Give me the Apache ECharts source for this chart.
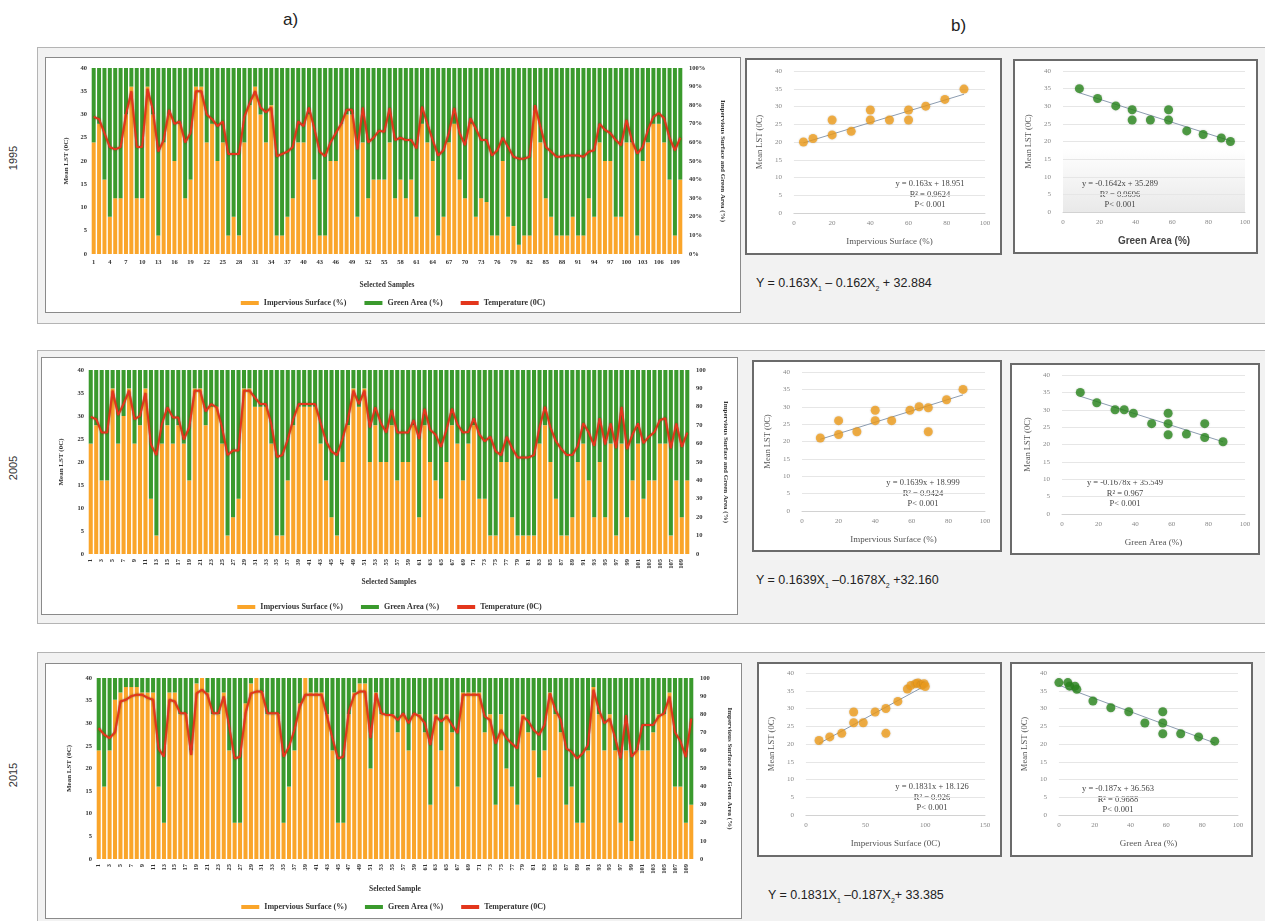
<!DOCTYPE html>
<html>
<head>
<meta charset="utf-8">
<script src="https://cdn.jsdelivr.net/npm/echarts/dist/echarts.min.js"></script>
<style>
  body { margin:0; width:1265px; height:921px; background:#fff; position:relative; overflow:hidden; font-family:'Liberation Sans', Arial, sans-serif; }
  .frame { position:absolute; background:#f2f2f2; border:1px solid #b4b4b4; box-sizing:border-box; }
  .box { position:absolute; background:#fff; box-sizing:border-box; }
  .barbox { border:1.5px solid #8a8a8a; }
  .scbox { border:2px solid #6b6b6b; }
  .box > div { width:100%; height:100%; }
  .tag { position:absolute; font-size:17px; color:#222; }
  .year { position:absolute; font-size:11px; color:#333; transform:rotate(-90deg); transform-origin:center; }
  .eq { position:absolute; font-size:12.5px; color:#222; white-space:nowrap; }
  .eq sub { font-size:7px; }
</style>
</head>
<body>

<div class="tag" style="left:283px;top:10px">a)</div>
<div class="tag" style="left:951px;top:16px">b)</div>

<div class="frame" style="left:37px;top:47px;width:1230px;height:277px"></div>
<div class="frame" style="left:37px;top:350px;width:1230px;height:274px"></div>
<div class="frame" style="left:37px;top:652px;width:1230px;height:280px"></div>

<div class="year" style="left:1px;top:152px">1995</div>
<div class="year" style="left:1px;top:462px">2005</div>
<div class="year" style="left:1px;top:769px">2015</div>

<div class="box barbox" style="left:45px;top:57px;width:696px;height:256px"><div id="bar1995"></div></div>
<div class="box barbox" style="left:41px;top:357px;width:697px;height:258px"><div id="bar2005"></div></div>
<div class="box barbox" style="left:45px;top:663px;width:697px;height:256px"><div id="bar2015"></div></div>

<div class="box scbox" style="left:745px;top:58px;width:257px;height:197px"><div id="is1995"></div></div>
<div class="box scbox" style="left:1013px;top:59px;width:245px;height:195px"><div id="ga1995"></div></div>
<div class="box scbox" style="left:752px;top:360px;width:250px;height:192px"><div id="is2005"></div></div>
<div class="box scbox" style="left:1010px;top:363px;width:250px;height:192px"><div id="ga2005"></div></div>
<div class="box scbox" style="left:757px;top:662px;width:245px;height:195px"><div id="is2015"></div></div>
<div class="box scbox" style="left:1010px;top:662px;width:243px;height:195px"><div id="ga2015"></div></div>

<div class="eq" style="left:756px;top:276px">Y = 0.163X<sub>1</sub> – 0.162X<sub>2</sub> + 32.884</div>
<div class="eq" style="left:756px;top:573px">Y = 0.1639X<sub>1</sub> –0.1678X<sub>2</sub> +32.160</div>
<div class="eq" style="left:768px;top:888px">Y = 0.1831X<sub>1</sub> –0.187X<sub>2</sub>+ 33.385</div>

<script>
// ---- sample labels 1..110
var samples = [];
for (var i = 1; i <= 110; i++) samples.push(String(i));

// ---- 1995
var imp1995 = [60,70,40,20,30,30,75,90,30,30, 90,75,10,60,75,50,70,30,40,90,
               90,60,70,50,60,10,20,10,60,80, 90,75,60,80,10,10,20,30,60,60,
               75,40,10,10,50,50,70,75,75,20, 60,30,40,40,40,60,30,40,30,40,
               20,70,60,50,10,20,60,70,40,30, 70,20,30,28,10,10,50,20,15,5,
               10,10,77,60,30,20,10,10,10,20, 10,10,30,20,60,50,50,20,20,60,
               60,10,50,60,70,70,60,40,10,40];
var green1995 = [40,30,60,80,70,70,25,10,70,70, 10,25,90,40,25,50,30,70,60,10,
                 10,40,30,50,40,90,80,90,40,20, 10,25,40,20,90,90,80,70,40,40,
                 25,60,90,90,50,50,30,25,25,80, 40,70,60,60,60,40,70,60,70,60,
                 80,30,40,50,90,80,40,30,60,70, 30,80,70,72,90,90,50,80,85,95,
                 90,90,23,40,70,80,90,90,90,80, 90,90,70,80,40,50,50,80,80,40,
                 40,90,50,40,30,30,40,60,90,60];
var temp1995 = [29.5,29,26,23,22.5,23,30,35,23,23, 35.5,31,22,24.5,31,28,28.5,24,26,35,
                35,30,29,27.5,28.5,21.5,21.5,21.5,29.5,32.5, 35,31.5,30.5,31.5,21,21.5,22,23,28.5,27.5,
                31.5,27,22,21,24,26,28,31,31,22.5, 31.5,24,25,26.5,26.3,31.4,24.5,25,24.5,24.5,
                22.7,31.7,28,24.5,21.2,22.3,26,31.4,26,23.4, 29.2,27,24.5,24.5,21.2,22.3,25,23,20.9,20.5,
                20.5,20.9,32,27.4,23,22,20.9,20.9,21.2,21.2, 21.2,20.9,22,22.3,28,26.7,26,24.5,23.4,28.8,
                24.5,21.6,23,26.7,29.5,30.3,29.2,25,22.3,25];

// ---- 2005
var imp2005 = [60,70,40,40,90,60,75,90,60,70, 90,30,10,60,70,60,70,60,40,90,
               90,70,80,80,60,10,20,30,90,90, 80,80,80,60,10,10,40,70,80,80,
               80,80,60,40,20,10,50,70,90,80, 90,50,70,50,50,70,40,50,50,70,
               20,70,50,40,30,50,70,60,40,60, 70,30,30,10,10,50,50,20,10,10,
               10,10,60,70,50,30,10,10,20,50, 60,40,20,50,20,60,10,60,20,40,
               60,30,40,40,60,60,10,40,20,40];
var green2005 = [40,30,60,60,10,40,25,10,40,30, 10,70,90,40,30,40,30,40,60,10,
                 10,30,20,20,40,90,80,70,10,10, 20,20,20,40,90,90,60,30,20,20,
                 20,20,40,60,80,90,50,30,10,20, 10,50,30,50,50,30,60,50,50,30,
                 80,30,50,60,70,50,30,40,60,40, 30,70,70,90,90,50,50,80,90,90,
                 90,90,40,30,50,70,90,90,80,50, 40,60,80,50,80,40,90,40,80,60,
                 40,70,60,60,40,40,90,60,80,60];
var temp2005 = [29.8,29.3,26.4,26.4,35.5,30.2,32.6,35.5,29.3,30, 35,23.8,21.5,28.2,31.9,29.7,29.7,24.9,27.5,35.5,
                35.5,31,32.6,31.9,27.5,21.5,22.5,22.5,35.5,35.5, 34,32.6,32.6,28.2,21.1,21.5,24.9,29.3,32.6,32.6,
                32.6,32.6,28.5,24.5,22.3,21.5,25,29.3,35.5,32.6, 35.5,27.5,31.9,28.5,26.4,31.3,26.4,26.4,26.4,29.1,
                25,31.6,27,26,23.3,27,31.6,28.2,26.4,26.5, 29.5,26,24.5,25.5,22.3,21.5,25.5,23,21,21,
                21,21.5,27.5,32,27.5,24.5,22.8,21.5,21.5,23.5, 28.4,26.4,23.5,29.5,23.8,28.4,23,32,22.8,26,
                28.4,24.1,25.5,26.5,29.1,29.5,23,28.4,23.3,26.4];

// ---- 2015
var imp2015 = [60,40,60,88,92,95,95,95,92,92, 92,40,20,92,92,80,80,60,97,100,
               92,80,80,92,60,20,20,86,97,100, 92,80,80,80,20,40,60,86,100,92,
               92,92,80,60,20,20,80,92,97,97, 50,92,80,80,80,70,80,60,80,80,
               70,30,80,60,80,70,40,92,92,92, 92,70,80,30,80,50,40,30,80,70,
               60,45,60,92,80,70,30,40,20,20, 60,95,80,60,80,60,20,60,10,60,
               60,60,70,80,80,92,40,40,20,30];
var green2015 = [40,60,40,12,8,5,5,5,8,8, 8,60,80,8,8,20,20,40,3,0,
                 8,20,20,8,40,80,80,14,3,0, 8,20,20,20,80,60,40,14,0,8,
                 8,8,20,40,80,80,20,8,3,3, 50,8,20,20,20,30,20,40,20,20,
                 30,70,20,40,20,30,60,8,8,8, 8,30,20,70,20,50,60,70,20,30,
                 40,55,40,8,20,30,70,60,80,80, 40,5,20,40,20,40,80,40,90,40,
                 40,40,30,20,20,8,60,60,80,70];
var temp2015 = [28.9,27.5,26.7,28,34.8,35.2,36,36.3,36.3,35.6, 35.2,24.4,22.6,35.2,34.8,32.2,32.2,23,36.6,37.4,
                36.3,32.2,32.2,35.9,29.3,22.2,22.6,32.2,36.6,37, 37,32.2,32.2,32.2,22.6,24.8,28.5,33.7,36.3,36.3,
                36.3,36.3,31.5,26.7,22.2,22.6,32.6,36.3,37,37, 26.7,36.6,32.2,31.8,31.8,30.7,32.2,30,32.2,31.5,
                30,25.2,31.5,30.4,31.5,29.6,27.8,36.3,36.3,36.3, 36.3,31.5,30.7,25.5,28.5,26.7,25.5,24.4,31.5,30.5,
                28.5,27.4,29.6,36.6,33,30.7,24.4,23.7,22.2,23.3, 25.2,37.4,33,30,31,26.7,22.2,31.8,22.6,24,
                29.6,29.6,29.6,31.5,32.2,35.9,28,26,22.5,31];

// ---- scatter samples (x = % cover, y = mean LST)
var isX1995 = [5,10,20,20,30,40,40,50,60,60,69,79,89];
var isY1995 = [20,21,22,26.2,23,26.2,29,26.2,26.2,29,30.1,32,34.9];
var gaX1995 = [9,19,29,38,38,48,58,58,68,77,87,92];
var gaY1995 = [35,32.2,30.1,29,26.1,26.1,29,26.1,23,22,21,20];
var isX2005 = [10,20,20,30,40,40,49,59,64,69,69,79,88];
var isY2005 = [21,22,26,22.8,26,29,26,29,30,29.7,22.8,32,35];
var gaX2005 = [10,19,29,34,39,49,58,58,58,68,78,78,88];
var gaY2005 = [35,32,30,30,29,26,29,26,22.8,23,26,22,20.8];
var isX2015 = [11,20,30,40,40,48,58,67,67,77,85,88,92,94,97,99,100];
var isY2015 = [21,22,23,26,29,26,29,30,23,32,35.5,36.5,37,37.2,36.6,37,36.2];
var gaX2015 = [0,5,6,9,10,19,29,39,48,58,58,58,68,78,87];
var gaY2015 = [37.3,37.3,36.3,36.3,35.4,32.1,30.2,29.1,25.9,29.1,25.9,22.9,22.9,22,20.8];

var ORANGE = '#FAA52A', GREEN = '#3A9A2D', RED = '#E3361C';
var SERIF = 'Liberation Serif, Times New Roman, serif';

function barChart(id, imp, green, temp, o) {
    var chart = echarts.init(document.getElementById(id));
    chart.setOption({
        animation: false,
        textStyle: { fontFamily: SERIF },
        grid: { left: o.left, right: o.right, top: o.top, bottom: o.bottom },
        legend: {
            top: o.legendTop, left: 'center',
            itemWidth: 18, itemHeight: 4, itemGap: 18,
            textStyle: { fontSize: 8, fontWeight: 'bold', color: '#333', fontFamily: SERIF },
            data: [
                { name: 'Impervious Surface (%)', icon: 'rect' },
                { name: 'Green Area (%)', icon: 'rect' },
                { name: 'Temperature (0C)', icon: 'rect' }
            ]
        },
        xAxis: {
            type: 'category', data: samples,
            axisTick: { show: false }, axisLine: { show: false },
            axisLabel: { interval: o.interval, rotate: o.rotate, fontSize: 6.5, fontWeight: 'bold', color: '#333', margin: 5 },
            name: o.xName, nameLocation: 'middle', nameGap: o.nameGap,
            nameTextStyle: { fontSize: 7.5, fontWeight: 'bold', color: '#333' }
        },
        yAxis: [
            {
                type: 'value', min: 0, max: 40, interval: 5,
                axisLine: { show: false }, axisTick: { show: false }, splitLine: { show: false },
                axisLabel: { fontSize: 6.5, fontWeight: 'bold', color: '#333', margin: 4 },
                name: 'Mean LST (0C)', nameLocation: 'middle', nameGap: o.lgap,
                nameTextStyle: { fontSize: 7, fontWeight: 'bold', color: '#333' }
            },
            {
                type: 'value', min: 0, max: 100, interval: 10,
                axisLine: { show: false }, axisTick: { show: false }, splitLine: { show: false },
                axisLabel: { fontSize: 6.5, fontWeight: 'bold', color: '#333', margin: 6,
                             formatter: o.pct ? '{value}%' : '{value}' },
                name: 'Impervious Surface and Green Area (%)', nameLocation: 'middle',
                nameRotate: -90, nameGap: o.rgap,
                nameTextStyle: { fontSize: 7, fontWeight: 'bold', color: '#333' }
            }
        ],
        series: [
            { name: 'Impervious Surface (%)', type: 'bar', stack: 'cover', yAxisIndex: 1, data: imp,
              barCategoryGap: '26%', itemStyle: { color: ORANGE } },
            { name: 'Green Area (%)', type: 'bar', stack: 'cover', yAxisIndex: 1, data: green,
              itemStyle: { color: GREEN } },
            { name: 'Temperature (0C)', type: 'line', yAxisIndex: 0, data: temp, symbol: 'none',
              lineStyle: { color: RED, width: 2, shadowColor: 'rgba(110,40,0,0.7)', shadowBlur: 2 },
              itemStyle: { color: RED } }
        ]
    });
}

function scatterChart(id, xs, ys, fit, o) {
    var pts = xs.map(function (x, i) { return [x, ys[i]]; });
    var x0 = Math.min.apply(null, xs), x1 = Math.max.apply(null, xs);
    var chart = echarts.init(document.getElementById(id));
    chart.setOption({
        animation: false,
        textStyle: { fontFamily: SERIF },
        grid: { left: o.left, right: o.right, top: o.top, bottom: o.bottom,
                show: !!o.shade, borderWidth: 0,
                backgroundColor: o.shade ? new echarts.graphic.LinearGradient(0, 0, 0, 1,
                    [{ offset: 0, color: '#ffffff' }, { offset: 0.55, color: '#ffffff' }, { offset: 1, color: '#e9e9e9' }]) : 'transparent' },
        xAxis: {
            type: 'value', min: 0, max: o.xmax, interval: o.xint,
            axisLine: { lineStyle: { color: '#d2d2d2' } }, axisTick: { show: false }, splitLine: { show: false },
            axisLabel: { fontSize: 7, color: '#888', margin: 7 },
            name: o.xName, nameLocation: 'middle', nameGap: 24, nameTextStyle: o.xNameStyle
        },
        yAxis: {
            type: 'value', min: 0, max: 40, interval: 5,
            axisLine: { show: false }, axisTick: { show: false },
            splitLine: { lineStyle: { color: '#e6e6e6' } },
            axisLabel: { fontSize: 7, color: '#888', margin: 12 },
            name: 'Mean LST (0C)', nameLocation: 'middle', nameGap: 25,
            nameTextStyle: { fontSize: 8.5, color: '#555' }
        },
        series: [
            { type: 'line', data: [[x0, fit[0] * x0 + fit[1]], [x1, fit[0] * x1 + fit[1]]],
              symbol: 'none', lineStyle: { color: '#8c9cb0', width: 1 }, z: 1 },
            { type: 'scatter', data: pts, symbolSize: 9, z: 2,
              itemStyle: { color: o.color, shadowColor: 'rgba(0,0,0,0.25)', shadowBlur: 2 } }
        ],
        graphic: [{
            type: 'text', x: o.tx, y: o.ty,
            style: { text: o.label, align: 'center', verticalAlign: 'top', lineHeight: 10.5,
                     font: '8.5px ' + SERIF, fill: '#444' }
        }]
    });
}

barChart('bar1995', imp1995, green1995, temp1995,
    { left: 45, right: 57, top: 10, bottom: 58, interval: 2, rotate: 0, pct: true,
      xName: 'Selected Samples', nameGap: 27, legendTop: 236, lgap: 21, rgap: 36 });
barChart('bar2005', imp2005, green2005, temp2005,
    { left: 46, right: 47, top: 12, bottom: 60, interval: 1, rotate: 90, pct: false,
      xName: 'Selected Samples', nameGap: 24, legendTop: 240, lgap: 23, rgap: 32 });
barChart('bar2015', imp2015, green2015, temp2015,
    { left: 50, right: 44, top: 14, bottom: 59, interval: 1, rotate: 90, pct: false,
      xName: 'Selected Sample', nameGap: 26, legendTop: 234, lgap: 23, rgap: 32 });

var serifName = { fontSize: 9, color: '#555', fontFamily: SERIF };
var boldSansName = { fontSize: 10, color: '#444', fontWeight: 'bold', fontFamily: 'Liberation Sans, Arial, sans-serif' };

scatterChart('is1995', isX1995, isY1995, [0.163, 18.951],
    { left: 46, right: 15, top: 11, bottom: 40, xmax: 100, xint: 20, color: '#F3A01E',
      xName: 'Impervious Surface (%)', xNameStyle: serifName,
      label: 'y = 0.163x + 18.951\nR² = 0.9624\nP< 0.001', tx: 183, ty: 119 });
scatterChart('ga1995', gaX1995, gaY1995, [-0.1642, 35.289],
    { left: 48, right: 11, top: 10, bottom: 40, xmax: 100, xint: 20, color: '#2C8A1F', shade: true,
      xName: 'Green Area (%)', xNameStyle: boldSansName,
      label: 'y = -0.1642x + 35.289\nR² = 0.9696\nP< 0.001', tx: 105, ty: 118 });
scatterChart('is2005', isX2005, isY2005, [0.1639, 18.999],
    { left: 48, right: 15, top: 10, bottom: 39, xmax: 100, xint: 20, color: '#F3A01E',
      xName: 'Impervious Surface (%)', xNameStyle: serifName,
      label: 'y = 0.1639x + 18.999\nR² = 0.9424\nP< 0.001', tx: 169, ty: 116 });
scatterChart('ga2005', gaX2005, gaY2005, [-0.1678, 35.549],
    { left: 50, right: 13, top: 10, bottom: 39, xmax: 100, xint: 20, color: '#2C8A1F',
      xName: 'Green Area (%)', xNameStyle: serifName,
      label: 'y = -0.1678x + 35.549\nR² = 0.967\nP< 0.001', tx: 113, ty: 113 });
scatterChart('is2015', isX2015, isY2015, [0.1831, 18.126],
    { left: 44, right: 15, top: 9, bottom: 40, xmax: 150, xint: 50, color: '#F3A01E',
      xName: 'Impervious Surface (0C)', xNameStyle: serifName,
      label: 'y = 0.1831x + 18.126\nR² = 0.926\nP< 0.001', tx: 173, ty: 118 });
scatterChart('ga2015', gaX2015, gaY2015, [-0.187, 36.563],
    { left: 46, right: 13, top: 9, bottom: 40, xmax: 100, xint: 20, color: '#2C8A1F',
      xName: 'Green Area (%)', xNameStyle: serifName,
      label: 'y = -0.187x + 36.563\nR² = 0.9688\nP< 0.001', tx: 106, ty: 120 });
</script>
</body>
</html>
